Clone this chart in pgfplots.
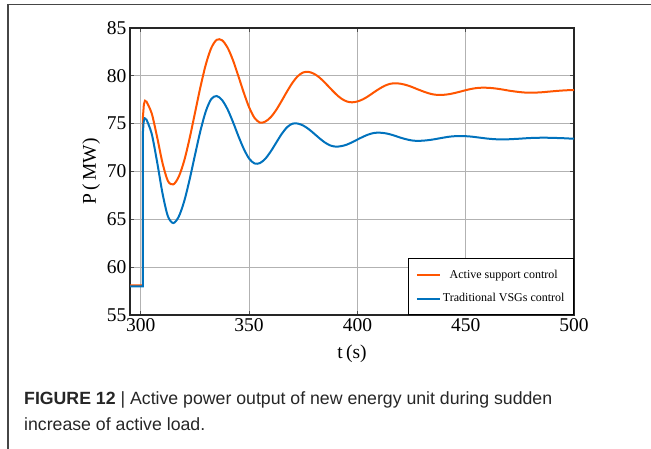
\documentclass[border=0pt]{standalone}
\usepackage{pgfplots}
\pgfplotsset{compat=1.18}
\usepackage{fontspec}
\setmainfont{Liberation Serif}
\newfontfamily\capfont{Liberation Sans}
\definecolor{corange}{RGB}{255,85,0}
\definecolor{cblue}{RGB}{0,114,189}
\definecolor{frame}{RGB}{70,70,70}
\begin{document}
\begin{tikzpicture}[x=1pt,y=1pt]
\useasboundingbox (0,0) rectangle (651,449);
\draw[frame, line width=1.5pt] (651,444.5) -- (8,444.5) -- (8,0);
\begin{axis}[
  at={(130pt,134pt)}, anchor=south west,
  scale only axis, width=444pt, height=287pt,
  xmin=295, xmax=500, ymin=55, ymax=85,
  xtick={300,350,400,450,500}, ytick={55,60,65,70,75,80,85},
  tick pos=both, tick align=inside, major tick length=4pt,
  grid=major, major grid style={line width=0.8pt, color=black!30},
  axis line style={line width=1.2pt, color=black!85},
  tick style={line width=0.8pt, color=black!70},
  /pgf/number format/assume math mode=true,
  ticklabel style={font=\fontsize{19.5}{19.5}\selectfont},
  xlabel={t\,(s)}, ylabel={P\,(\,MW)},
  label style={font=\fontsize{19.5}{19.5}\selectfont},
  xlabel style={yshift=-6pt},
  legend style={at={(1,0)}, anchor=south east, draw=black, line width=1pt,
    font=\fontsize{12}{12}\selectfont, inner xsep=7pt, inner ysep=9pt, row sep=10pt},
  legend cell align=center,
  legend image code/.code={\draw[#1, line width=2pt] (0pt,0pt) -- (23pt,0pt);},
]
\addplot[corange, line width=2pt, forget plot] coordinates {(295,58.1) (301.0,58.1) (301.0,75.8) (301.4,77.0) (301.9,77.4) (302.5,77.35)};
\addplot[corange, line width=2pt, smooth] coordinates {
(302.5,77.35) (305,76.09) (307.5,73.62) (310,70.90) (312.5,69.01) (315,68.65) (317.5,69.45) (320,71.11) (322.5,73.44) (325,76.12) (327.5,78.81) (330,81.18) (332.5,82.90) (335,83.76) (337.5,83.72) (340,82.97) (342.5,81.66) (345,80.0) (347.5,78.26) (350,76.71) (352.5,75.60) (355,75.11) (357.5,75.22) (360,75.68) (362.5,76.43) (365,77.37) (367.5,78.36) (370,79.27) (372.5,79.97) (375,80.36) (377.5,80.41) (380,80.21) (382.5,79.82) (385,79.28) (387.5,78.69) (390,78.11) (392.5,77.63) (395,77.33) (397.5,77.23) (400,77.32) (402.5,77.54) (405,77.87) (407.5,78.26) (410,78.63) (412.5,78.95) (415,79.16) (417.5,79.22) (420,79.17) (422.5,79.04) (425,78.85) (427.5,78.62) (430,78.40) (432.5,78.20) (435,78.06) (437.5,78.0) (440,78.02) (442.5,78.09) (445,78.21) (447.5,78.35) (450,78.50) (452.5,78.63) (455,78.72) (457.5,78.76) (460,78.75) (462.5,78.71) (465,78.64) (467.5,78.55) (470,78.45) (472.5,78.37) (475,78.30) (477.5,78.25) (480,78.24) (482.5,78.25) (485,78.28) (487.5,78.33) (490,78.38) (492.5,78.43) (495,78.47) (497.5,78.50) (500,78.52)};
\addlegendentry{Active support control}
\addplot[cblue, line width=2pt, forget plot] coordinates {(295,58.0) (301.0,58.0) (301.0,74.2) (301.3,75.2) (301.8,75.56) (302.5,75.48)};
\addplot[cblue, line width=2pt, smooth] coordinates {
(302.5,75.48) (305,73.96) (307.5,71.02) (310,67.73) (312.5,65.32) (315,64.61) (317.5,65.28) (320,66.87) (322.5,69.14) (325,71.72) (327.5,74.23) (330,76.29) (332.5,77.57) (335,77.89) (337.5,77.47) (340,76.52) (342.5,75.20) (345,73.73) (347.5,72.38) (350,71.35) (352.5,70.84) (355,70.88) (357.5,71.34) (360,72.10) (362.5,73.01) (365,73.91) (367.5,74.62) (370,75.0) (372.5,75.01) (375,74.80) (377.5,74.43) (380,73.96) (382.5,73.47) (385,73.03) (387.5,72.72) (390,72.6) (392.5,72.65) (395,72.80) (397.5,73.05) (400,73.34) (402.5,73.62) (405,73.86) (407.5,74.02) (410,74.06) (412.5,74.01) (415,73.89) (417.5,73.72) (420,73.53) (422.5,73.37) (425,73.25) (427.5,73.2) (430,73.22) (432.5,73.27) (435,73.35) (437.5,73.45) (440,73.55) (442.5,73.64) (445,73.69) (447.5,73.71) (450,73.69) (452.5,73.65) (455,73.58) (457.5,73.51) (460,73.44) (462.5,73.39) (465,73.36) (467.5,73.36) (470,73.37) (472.5,73.40) (475,73.43) (477.5,73.47) (480,73.50) (482.5,73.52) (485,73.53) (487.5,73.53) (490,73.51) (492.5,73.50) (495,73.48) (497.5,73.45) (500,73.43)};
\addlegendentry{Traditional VSGs control}
\end{axis}
\node[anchor=base west, inner sep=0pt, font=\capfont\fontsize{17.7}{17.7}\selectfont, text=black!85] at (24,44) {\textbf{FIGURE 12} | Active power output of new energy unit during sudden};
\node[anchor=base west, inner sep=0pt, font=\capfont\fontsize{17.7}{17.7}\selectfont, text=black!85] at (24,18) {increase of active load.};
\end{tikzpicture}
\end{document}
